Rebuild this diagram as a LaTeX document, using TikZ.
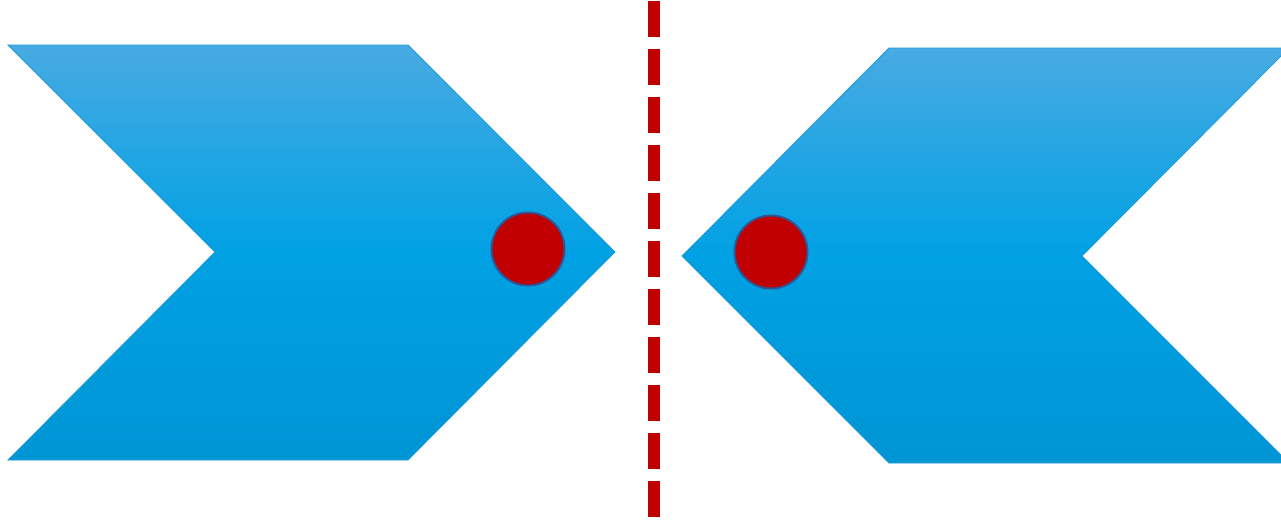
\documentclass[tikz,border=0pt]{standalone}
\begin{document}
\begin{tikzpicture}[x=1pt,y=-1pt,
  chev/.style={top color=chevtop, bottom color=chevbot, middle color=chevmid, draw=chevline, line width=0.8pt},
  dot/.style={fill=dotred, draw=dotline, line width=2pt},
  cut/.style={draw=dotred, line width=12pt, dash pattern=on 36pt off 12pt}]
\definecolor{chevtop}{HTML}{48AAE2}
\definecolor{chevmid}{HTML}{00A1E4}
\definecolor{chevbot}{HTML}{0095D5}
\definecolor{chevline}{HTML}{1E9BD7}
\definecolor{dotred}{HTML}{C00000}
\definecolor{dotline}{HTML}{2F5597}
\useasboundingbox (0,0) rectangle (1281,522);
\clip (0,0) rectangle (1281,522);
\shade[chev] (8,45) -- (408,45) -- (615,252) -- (408,460) -- (8,460) -- (215,252) -- cycle;
\shade[chev] (682,256) -- (889,48) -- (1289,48) -- (1082,256) -- (1289,463) -- (889,463) -- cycle;
\draw[dot] (528,249) circle (36.5);
\draw[dot] (771,252) circle (36.5);
\coordinate (ctop) at (654,1);
\coordinate (cbot) at (654,518);
\draw[cut] (ctop) -- (cbot);
\end{tikzpicture}
\end{document}
